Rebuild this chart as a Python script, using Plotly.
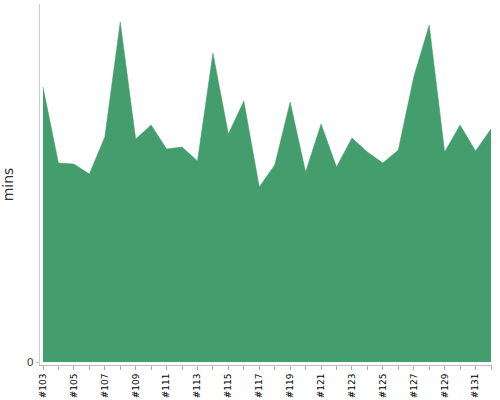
import plotly.graph_objects as go

builds = ["#%d" % n for n in range(103, 133)]
minutes = [27.5, 19.9, 19.8, 18.8, 22.5, 34.0, 22.3, 23.7, 21.3, 21.5,
           20.1, 30.9, 22.8, 26.1, 17.5, 19.7, 26.0, 19.0, 23.8, 19.5,
           22.4, 21.0, 19.9, 21.2, 28.5, 33.7, 21.0, 23.7, 21.1, 23.3]
tick_text = [b if i % 2 == 0 else "" for i, b in enumerate(builds)]
y_ticks = [0]

fig = go.Figure(go.Scatter(
    x=builds, y=minutes, mode="lines", fill="tozeroy",
    fillcolor="rgb(68,157,108)", line=dict(color="rgb(68,157,108)", width=0.5),
    hoverinfo="x+y",
))

fig.update_layout(
    width=500, height=400,
    margin=dict(l=40, r=8, t=4, b=35),
    paper_bgcolor="white", plot_bgcolor="white",
    showlegend=False,
    font=dict(family="DejaVu Sans", size=10, color="#000"),
)
fig.update_xaxes(
    type="category", categoryorder="array", categoryarray=builds,
    range=[-0.194, 29.065], automargin=False,
    tickmode="array", tickvals=builds, ticktext=tick_text,
    tickangle=-90, ticks="outside", ticklen=4, tickcolor="#aaa",
    showline=True, linecolor="#bbb", linewidth=1,
    showgrid=False, zeroline=False,
    tickfont=dict(family="DejaVu Sans", size=9, color="#000"),
)
fig.update_yaxes(
    range=[-0.3, 35.8], automargin=False,
    tickmode="array", tickvals=y_ticks, ticktext=["0"],
    ticks="outside", ticklen=3, tickcolor="#bbb",
    showline=True, linecolor="#ccc", linewidth=1,
    showgrid=False, zeroline=False,
    tickfont=dict(family="DejaVu Sans", size=11, color="#444"),
    title=dict(text="mins", font=dict(family="DejaVu Sans", size=14, color="#333")),
)

fig.write_html("out.html", config={"displayModeBar": False},
               post_script="document.body.style.margin='0';document.body.style.padding='0';")
